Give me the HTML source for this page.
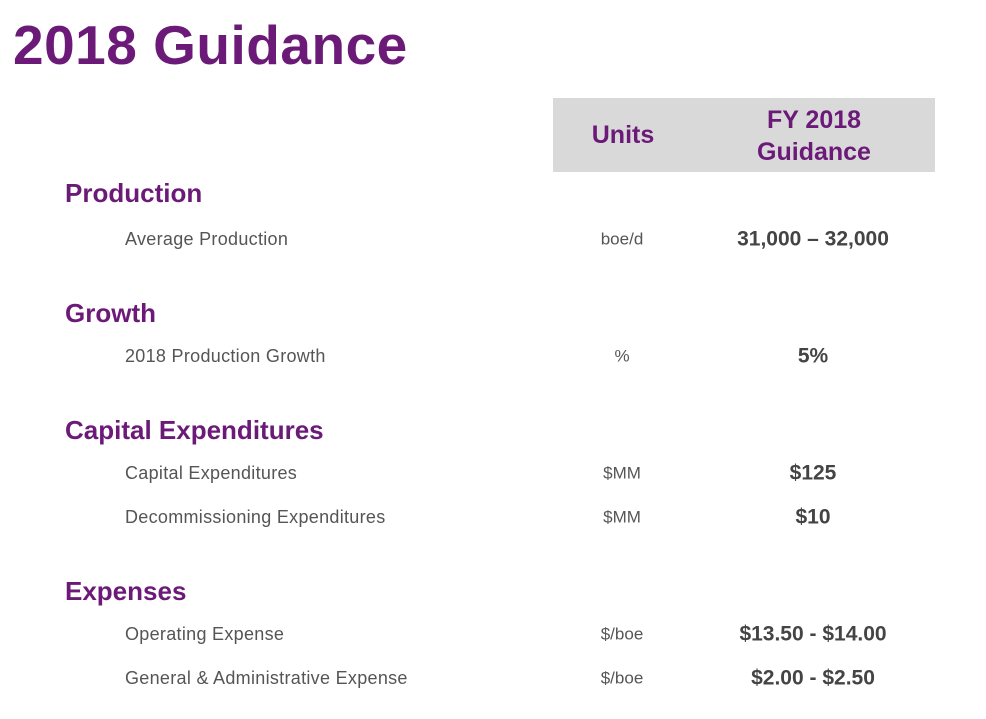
<!DOCTYPE html>
<html><head><meta charset="utf-8"><style>
body{margin:0;width:986px;height:719px;background:#fff;font-family:"Liberation Sans",sans-serif;position:relative;overflow:hidden}
.a{position:absolute;white-space:nowrap;line-height:1}
.title{left:13px;top:18px;font-size:55px;font-weight:bold;color:#6b1a78;letter-spacing:0.5px}
.hdr{left:553px;top:98px;width:382px;height:74px;background:#d9d9d9}
.hd{font-weight:bold;color:#6b1a78;font-size:25px;text-align:center;line-height:32px;position:absolute}
.sec{left:65px;font-size:26px;font-weight:bold;color:#6b1a78;transform:translateY(-50%)}
.item{left:125px;font-size:18px;color:#555;transform:translateY(-50%);letter-spacing:0.3px}
.unit{left:622px;font-size:17px;color:#555;transform:translate(-50%,-50%)}
.val{left:813px;font-size:21px;font-weight:bold;color:#444;transform:translate(-50%,-50%)}
</style></head><body>
<div class="a title">2018 Guidance</div>
<div class="a hdr">
 <div class="hd" style="left:0;width:140px;top:21px">Units</div>
 <div class="hd" style="left:140px;width:242px;top:6px">FY 2018<br>Guidance</div>
</div>

<div class="a sec" style="top:193px">Production</div>
<div class="a item" style="top:239px">Average Production</div>
<div class="a unit" style="top:239px">boe/d</div>
<div class="a val" style="top:239px">31,000 – 32,000</div>

<div class="a sec" style="top:313px">Growth</div>
<div class="a item" style="top:356px">2018 Production Growth</div>
<div class="a unit" style="top:356px">%</div>
<div class="a val" style="top:356px">5%</div>

<div class="a sec" style="top:430px">Capital Expenditures</div>
<div class="a item" style="top:473px">Capital Expenditures</div>
<div class="a unit" style="top:473px">$MM</div>
<div class="a val" style="top:473px">$125</div>
<div class="a item" style="top:517px">Decommissioning Expenditures</div>
<div class="a unit" style="top:517px">$MM</div>
<div class="a val" style="top:517px">$10</div>

<div class="a sec" style="top:591px">Expenses</div>
<div class="a item" style="top:634px">Operating Expense</div>
<div class="a unit" style="top:634px">$/boe</div>
<div class="a val" style="top:634px">$13.50 - $14.00</div>
<div class="a item" style="top:678px">General &amp; Administrative Expense</div>
<div class="a unit" style="top:678px">$/boe</div>
<div class="a val" style="top:678px">$2.00 - $2.50</div>
</body></html>
